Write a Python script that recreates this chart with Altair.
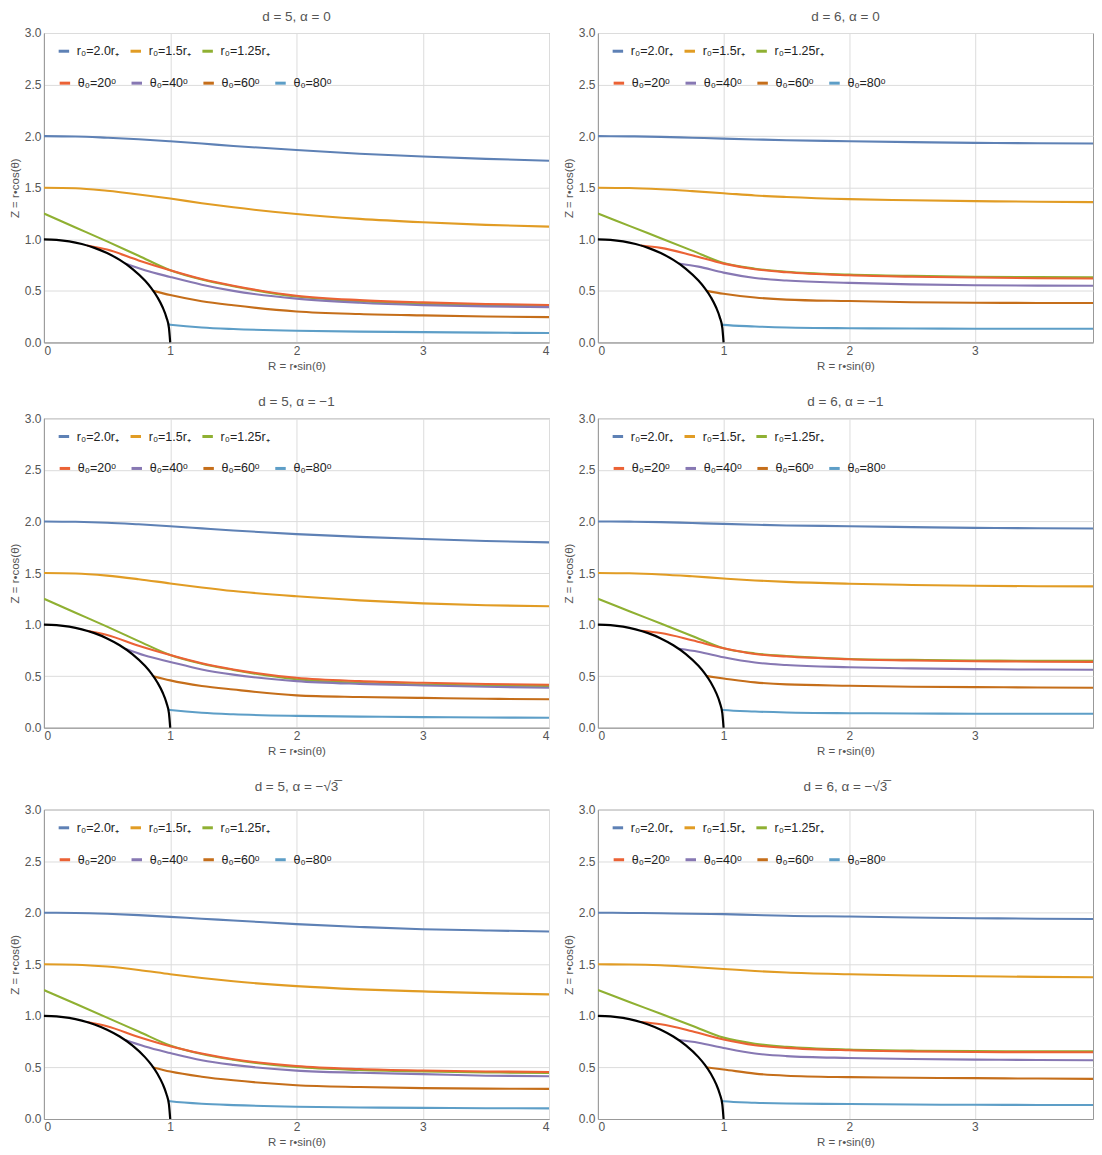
import altair as alt
import pandas as pd

# ---------------- data ----------------
R_GRID = [0, 0.25, 0.5, 0.75, 1, 1.25, 1.5, 2, 2.5, 3, 3.5, 4]
X_T20 = [0.342, 0.5, 0.75, 1, 1.25, 1.5, 2, 2.5, 3, 3.5, 4]
X_T40 = [0.643, 0.8, 1, 1.25, 1.5, 2, 2.5, 3, 3.5, 4]
X_T60 = [0.866, 1, 1.25, 1.5, 2, 2.5, 3, 3.5, 4]
X_T80 = [0.985, 1, 1.25, 1.5, 2, 2.5, 3, 3.5, 4]

CIRCLE_R = [0, 0.1, 0.2, 0.3, 0.4, 0.5, 0.6, 0.7, 0.8, 0.85, 0.9, 0.94, 0.97, 0.99, 1.0]
CIRCLE_Z = [1.0, 0.995, 0.98, 0.954, 0.917, 0.866, 0.80, 0.714, 0.60, 0.527, 0.436, 0.341, 0.243, 0.141, 0.0]

R0_LABELS = ["r₀=2.0r₊", "r₀=1.5r₊", "r₀=1.25r₊"]
TH_LABELS = ["θ₀=20ᵒ", "θ₀=40ᵒ", "θ₀=60ᵒ", "θ₀=80ᵒ"]
R0_COLORS = ["#5E81B5", "#E19C24", "#8FB032"]
TH_COLORS = ["#EB6235", "#8778B3", "#C56E1A", "#5D9EC7"]

TITLES = ["d = 5, α = 0", "d = 6, α = 0",
          "d = 5, α = −1", "d = 6, α = −1",
          "d = 5, α = −√3̅", "d = 6, α = −√3̅"]

# d = 5, alpha = 0
D5A0_R20 = [2.0, 1.997, 1.985, 1.97, 1.95, 1.928, 1.905, 1.865, 1.83, 1.803, 1.78, 1.762]
D5A0_R15 = [1.5, 1.495, 1.47, 1.435, 1.395, 1.35, 1.31, 1.245, 1.198, 1.165, 1.14, 1.123]
D5A0_R125 = [1.25, 1.115, 0.98, 0.84, 0.70, 0.61, 0.545, 0.445, 0.40, 0.375, 0.362, 0.355]
D5A0_T20 = [0.94, 0.90, 0.795, 0.70, 0.615, 0.55, 0.452, 0.41, 0.388, 0.372, 0.363]
D5A0_T40 = [0.766, 0.70, 0.635, 0.56, 0.50, 0.425, 0.385, 0.362, 0.35, 0.342]
D5A0_T60 = [0.5, 0.459, 0.40, 0.36, 0.30, 0.275, 0.262, 0.252, 0.245]
D5A0_T80 = [0.174, 0.172, 0.145, 0.13, 0.113, 0.105, 0.10, 0.095, 0.091]

# d = 6, alpha = 0
D6A0_R20 = [2.0, 1.998, 1.993, 1.985, 1.976, 1.968, 1.96, 1.951, 1.942, 1.935, 1.931, 1.928]
D6A0_R15 = [1.5, 1.497, 1.485, 1.467, 1.447, 1.425, 1.41, 1.389, 1.378, 1.37, 1.364, 1.36]
D6A0_R125 = [1.25, 1.13, 1.01, 0.89, 0.77, 0.715, 0.685, 0.658, 0.645, 0.637, 0.634, 0.632]
D6A0_T20 = [0.94, 0.917, 0.845, 0.764, 0.71, 0.68, 0.651, 0.637, 0.629, 0.623, 0.619]
D6A0_T40 = [0.766, 0.735, 0.677, 0.625, 0.60, 0.577, 0.563, 0.555, 0.551, 0.549]
D6A0_T60 = [0.5, 0.472, 0.435, 0.415, 0.401, 0.39, 0.385, 0.383, 0.382]
D6A0_T80 = [0.174, 0.17, 0.155, 0.145, 0.138, 0.135, 0.133, 0.132, 0.132]

# d = 5, alpha = -1
D5A1_R20 = [2.0, 1.997, 1.988, 1.972, 1.954, 1.933, 1.912, 1.877, 1.85, 1.829, 1.811, 1.797]
D5A1_R15 = [1.5, 1.496, 1.475, 1.44, 1.399, 1.36, 1.325, 1.274, 1.235, 1.206, 1.188, 1.177]
D5A1_R125 = [1.25, 1.115, 0.98, 0.84, 0.705, 0.62, 0.56, 0.47, 0.435, 0.418, 0.41, 0.404]
D5A1_T20 = [0.94, 0.90, 0.795, 0.705, 0.625, 0.565, 0.484, 0.452, 0.436, 0.424, 0.417]
D5A1_T40 = [0.766, 0.70, 0.638, 0.565, 0.515, 0.452, 0.425, 0.41, 0.397, 0.388]
D5A1_T60 = [0.5, 0.459, 0.405, 0.37, 0.314, 0.298, 0.289, 0.281, 0.276]
D5A1_T80 = [0.174, 0.172, 0.145, 0.13, 0.115, 0.108, 0.103, 0.099, 0.096]

# d = 6, alpha = -1
D6A1_R20 = [2.0, 1.998, 1.993, 1.985, 1.976, 1.968, 1.961, 1.954, 1.945, 1.938, 1.934, 1.931]
D6A1_R15 = [1.5, 1.497, 1.486, 1.468, 1.447, 1.428, 1.414, 1.396, 1.384, 1.376, 1.372, 1.37]
D6A1_R125 = [1.25, 1.13, 1.01, 0.89, 0.77, 0.72, 0.695, 0.667, 0.658, 0.652, 0.649, 0.648]
D6A1_T20 = [0.94, 0.918, 0.848, 0.77, 0.715, 0.69, 0.664, 0.652, 0.645, 0.64, 0.638]
D6A1_T40 = [0.766, 0.737, 0.683, 0.632, 0.608, 0.587, 0.575, 0.568, 0.564, 0.561]
D6A1_T60 = [0.5, 0.478, 0.44, 0.42, 0.407, 0.398, 0.394, 0.39, 0.388]
D6A1_T80 = [0.174, 0.172, 0.157, 0.148, 0.141, 0.138, 0.136, 0.135, 0.135]

# d = 5, alpha = -sqrt(3)
D5A3_R20 = [2.0, 1.998, 1.99, 1.977, 1.96, 1.942, 1.925, 1.889, 1.862, 1.84, 1.828, 1.818]
D5A3_R15 = [1.5, 1.496, 1.478, 1.445, 1.404, 1.367, 1.335, 1.288, 1.257, 1.237, 1.22, 1.208]
D5A3_R125 = [1.25, 1.117, 0.983, 0.848, 0.713, 0.63, 0.575, 0.504, 0.475, 0.46, 0.452, 0.447]
D5A3_T20 = [0.94, 0.90, 0.795, 0.705, 0.635, 0.58, 0.514, 0.485, 0.47, 0.461, 0.456]
D5A3_T40 = [0.766, 0.703, 0.64, 0.57, 0.525, 0.469, 0.448, 0.435, 0.42, 0.414]
D5A3_T60 = [0.5, 0.46, 0.41, 0.375, 0.328, 0.31, 0.299, 0.295, 0.292]
D5A3_T80 = [0.174, 0.172, 0.148, 0.135, 0.119, 0.112, 0.108, 0.105, 0.103]

# d = 6, alpha = -sqrt(3)
D6A3_R20 = [2.0, 1.998, 1.995, 1.99, 1.986, 1.978, 1.97, 1.963, 1.954, 1.947, 1.942, 1.938]
D6A3_R15 = [1.5, 1.498, 1.49, 1.473, 1.455, 1.435, 1.42, 1.403, 1.391, 1.384, 1.378, 1.374]
D6A3_R125 = [1.25, 1.135, 1.02, 0.905, 0.789, 0.73, 0.70, 0.673, 0.663, 0.658, 0.657, 0.656]
D6A3_T20 = [0.94, 0.918, 0.85, 0.77, 0.715, 0.69, 0.666, 0.655, 0.65, 0.648, 0.647]
D6A3_T40 = [0.766, 0.74, 0.689, 0.635, 0.61, 0.592, 0.582, 0.576, 0.572, 0.57]
D6A3_T60 = [0.5, 0.48, 0.44, 0.42, 0.406, 0.4, 0.396, 0.392, 0.389]
D6A3_T80 = [0.174, 0.172, 0.158, 0.15, 0.145, 0.14, 0.138, 0.136, 0.135]

PANELS = [
    ([D5A0_R20, D5A0_R15, D5A0_R125], [D5A0_T20, D5A0_T40, D5A0_T60, D5A0_T80]),
    ([D6A0_R20, D6A0_R15, D6A0_R125], [D6A0_T20, D6A0_T40, D6A0_T60, D6A0_T80]),
    ([D5A1_R20, D5A1_R15, D5A1_R125], [D5A1_T20, D5A1_T40, D5A1_T60, D5A1_T80]),
    ([D6A1_R20, D6A1_R15, D6A1_R125], [D6A1_T20, D6A1_T40, D6A1_T60, D6A1_T80]),
    ([D5A3_R20, D5A3_R15, D5A3_R125], [D5A3_T20, D5A3_T40, D5A3_T60, D5A3_T80]),
    ([D6A3_R20, D6A3_R15, D6A3_R125], [D6A3_T20, D6A3_T40, D6A3_T60, D6A3_T80]),
]
TH_X = [X_T20, X_T40, X_T60, X_T80]

FONT = "Liberation Sans"
PLOT_H = 310


def panel(idx, xmax, width, title_offset):
    r0_vals, th_vals = PANELS[idx]
    rows = []
    for lab, zs in zip(R0_LABELS, r0_vals):
        for x, z in zip(R_GRID, zs):
            rows.append({"R": x, "Z": z, "s": lab})
    df_r0 = pd.DataFrame(rows)
    rows = []
    for lab, xs, zs in zip(TH_LABELS, TH_X, th_vals):
        for x, z in zip(xs, zs):
            rows.append({"R": x, "Z": z, "s": lab})
    df_th = pd.DataFrame(rows)
    df_c = pd.DataFrame({"R": CIRCLE_R, "Z": CIRCLE_Z})

    xticks = [v for v in [0, 1, 2, 3, 4] if v <= xmax]
    xs = alt.Scale(domain=[0, xmax], nice=False, zero=False)
    ys = alt.Scale(domain=[0, 3], nice=False)
    xax = alt.Axis(values=xticks, format="d", title="R = r•sin(θ)")
    yax = alt.Axis(values=[0, 0.5, 1, 1.5, 2, 2.5, 3], format=".1f", title="Z = r•cos(θ)")
    X = alt.X("R:Q", scale=xs, axis=xax)
    Y = alt.Y("Z:Q", scale=ys, axis=yax)

    r0 = alt.Chart(df_r0).mark_line(strokeWidth=2.1, interpolate="monotone", clip=True).encode(
        x=X, y=Y,
        color=alt.Color("s:N", scale=alt.Scale(domain=R0_LABELS, range=R0_COLORS),
                        legend=alt.Legend(title=None, orient="none", legendX=13, legendY=11,
                                          direction="horizontal", symbolType="stroke",
                                          symbolStrokeWidth=3, symbolSize=110,
                                          labelFontSize=12.5, labelColor="#222", labelFont=FONT,
                                          columnPadding=4, labelOffset=6)),
    )
    th = alt.Chart(df_th).mark_line(strokeWidth=2.1, interpolate="monotone", clip=True).encode(
        x=X, y=Y,
        color=alt.Color("s:N", scale=alt.Scale(domain=TH_LABELS, range=TH_COLORS),
                        legend=alt.Legend(title=None, orient="none", legendX=14, legendY=43,
                                          direction="horizontal", symbolType="stroke",
                                          symbolStrokeWidth=3, symbolSize=110,
                                          labelFontSize=12.5, labelColor="#222", labelFont=FONT,
                                          columnPadding=8, labelOffset=6)),
    )
    circ = alt.Chart(df_c).mark_line(color="black", strokeWidth=2.2, interpolate="monotone").encode(x=X, y=Y)

    return alt.layer(r0, th, circ).resolve_scale(color="independent").properties(
        width=width, height=PLOT_H,
        title=alt.TitleParams(TITLES[idx], fontSize=13.5, color="#555", fontWeight="normal",
                              font=FONT, offset=title_offset),
    )


rows = []
for r in range(3):
    off = 4 if r < 2 else 10
    left = panel(2 * r, 4, 506, off)
    right = panel(2 * r + 1, 3.94, 496, off)
    rows.append(alt.hconcat(left, right, spacing=12).resolve_scale(color="independent"))

chart = alt.vconcat(*rows, spacing=22).resolve_scale(color="independent").properties(
    padding={"left": 0, "top": 0, "right": 0, "bottom": 0}
).configure_axis(
    labelColor="#555", labelFontSize=12, labelFont=FONT,
    titleColor="#555", titleFontSize=11.5, titleFont=FONT, titleFontWeight="normal",
    gridColor="#dcdcdc", gridWidth=1, domainColor="#999", ticks=False,
    labelPadding=3, titlePadding=4,
).configure_view(stroke="#999")

chart.save("out.html", embed_options={"renderer": "svg", "actions": False})
